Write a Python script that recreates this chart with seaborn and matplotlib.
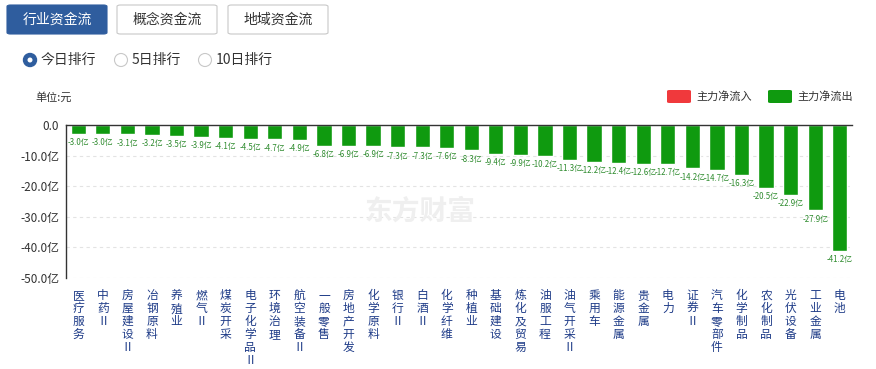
import matplotlib.pyplot as plt
import matplotlib.patches as mpatches
import pandas as pd
import seaborn as sns

categories = [
    "医疗服务", "中药Ⅱ", "房屋建设Ⅱ", "冶钢原料", "养殖业", "燃气Ⅱ", "煤炭开采",
    "电子化学品Ⅱ", "环境治理", "航空装备Ⅱ", "一般零售", "房地产开发", "化学原料",
    "银行Ⅱ", "白酒Ⅱ", "化学纤维", "种植业", "基础建设", "炼化及贸易", "油服工程",
    "油气开采Ⅱ", "乘用车", "能源金属", "贵金属", "电力", "证券Ⅱ", "汽车零部件",
    "化学制品", "农化制品", "光伏设备", "工业金属", "电池",
]
net_flow = [
    -3.0, -3.0, -3.1, -3.2, -3.5, -3.9, -4.1, -4.5, -4.7, -4.9, -6.8, -6.9,
    -6.9, -7.3, -7.3, -7.6, -8.3, -9.4, -9.9, -10.2, -11.3, -12.2, -12.4,
    -12.6, -12.7, -14.2, -14.7, -16.3, -20.5, -22.9, -27.9, -41.2,
]
y_ticks = [0, -10, -20, -30, -40, -50]
y_tick_labels = ["0.0", "-10.0亿", "-20.0亿", "-30.0亿", "-40.0亿", "-50.0亿"]
tabs = ["行业资金流", "概念资金流", "地域资金流"]
radios = ["今日排行", "5日排行", "10日排行"]

GREEN = "#0f9a0f"
RED = "#f0393c"
BLUE = "#2f5d9e"

sns.set_style("white")
plt.rcParams["font.family"] = ["Noto Sans CJK SC", "DejaVu Sans"]

W, H = 876, 369
fig = plt.figure(figsize=(W / 100, H / 100), dpi=100)


def px(x, y):
    return x / W, 1 - y / H


ax = fig.add_axes([66 / W, 1 - 278 / H, (852 - 66) / W, (278 - 125) / H])
df = pd.DataFrame({"category": categories, "value": net_flow})
sns.barplot(data=df, x="category", y="value", color=GREEN, saturation=1,
            width=0.62, ax=ax)

ax.set_xlim(-0.5, len(categories) - 0.5)
ax.set_ylim(-50, 0)
ax.set_yticks(y_ticks)
ax.set_yticklabels(y_tick_labels, fontsize=8.5, color="#333333")
ax.set_xticks(range(len(categories)))
ax.set_xticklabels(["\n".join(c) for c in categories], rotation=0, va="top",
                   fontsize=8.5, color="#1f3c88", linespacing=1.0)
ax.tick_params(axis="both", length=0, pad=5)
ax.tick_params(axis="x", pad=8)
ax.set_xlabel("")
ax.set_ylabel("")
for y in y_ticks[1:]:
    ax.axhline(y, color="#e3e3e3", linestyle=(0, (3, 3)), linewidth=0.8, zorder=0)
for side in ["right", "bottom"]:
    ax.spines[side].set_visible(False)
ax.spines["left"].set_color("#333333")
ax.spines["top"].set_color("#333333")
ax.spines["left"].set_linewidth(1)
ax.spines["top"].set_linewidth(1)

for i, v in enumerate(net_flow):
    ax.annotate(f"{v:.1f}亿", (i, v), xytext=(0, -3), textcoords="offset points",
                ha="center", va="top", fontsize=5.7, color="#2e8b2e")

# watermark
fig.text(*px(420, 212), "东方财富", fontsize=20, color="#efefef",
         ha="center", va="center", fontweight="bold", zorder=0)

# tabs
tab_x = [7, 117, 228]
for i, (x0, t) in enumerate(zip(tab_x, tabs)):
    fc = BLUE if i == 0 else "white"
    ec = BLUE if i == 0 else "#c8c8c8"
    fig.patches.append(mpatches.FancyBboxPatch(
        px(x0, 34), 100 / W, 29 / H, boxstyle="round,pad=0,rounding_size=0.004",
        transform=fig.transFigure, facecolor=fc, edgecolor=ec, linewidth=0.8))
    fig.text(*px(x0 + 50, 19.5), t, fontsize=10, ha="center", va="center",
             color="white" if i == 0 else "#333333")

# radio buttons
radio_x = [30, 121, 205]
for i, (x0, t) in enumerate(zip(radio_x, radios)):
    cx, cy = px(x0, 60)
    if i == 0:
        fig.patches.append(mpatches.Ellipse((cx, cy), 13 / W, 13 / H,
                           transform=fig.transFigure, facecolor=BLUE, edgecolor=BLUE))
        fig.patches.append(mpatches.Ellipse((cx, cy), 5 / W, 5 / H,
                           transform=fig.transFigure, facecolor="white", edgecolor="none"))
    else:
        fig.patches.append(mpatches.Ellipse((cx, cy), 13 / W, 13 / H,
                           transform=fig.transFigure, facecolor="white",
                           edgecolor="#c8c8c8", linewidth=0.8))
    fig.text(*px(x0 + 11, 60), t, fontsize=10, ha="left", va="center", color="#333333")

fig.text(*px(35, 97), "单位:元", fontsize=8, ha="left", va="center", color="#333333")

# legend
for x0, c, t in [(667, RED, "主力净流入"), (768, GREEN, "主力净流出")]:
    fig.patches.append(mpatches.FancyBboxPatch(
        px(x0, 103), 24 / W, 13 / H, boxstyle="round,pad=0,rounding_size=0.003",
        transform=fig.transFigure, facecolor=c, edgecolor="none"))
    fig.text(*px(x0 + 29, 96.5), t, fontsize=8, ha="left", va="center", color="#333333")

fig.savefig("out.png", dpi=100)
